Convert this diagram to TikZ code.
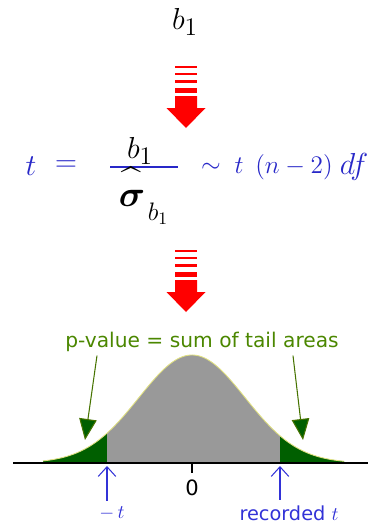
\documentclass[tikz,border=0pt]{standalone}
\usepackage{amsmath}
\usepackage{fontspec}
\newfontfamily\pixelfont{DejaVu Sans}
\usetikzlibrary{arrows.meta}

\definecolor{eqblue}{RGB}{40,40,200}
\definecolor{lblblue}{RGB}{50,50,215}
\definecolor{txtgreen}{RGB}{75,135,0}
\definecolor{shaftgreen}{RGB}{70,115,0}
\definecolor{tailgreen}{RGB}{0,95,0}
\definecolor{arrowred}{RGB}{255,0,0}
\definecolor{curvegray}{RGB}{153,153,153}
\definecolor{rimyellow}{RGB}{225,225,130}

\begin{document}
\begin{tikzpicture}[x=0.02cm, y=-0.02cm, >=Latex, every node/.style={inner sep=0pt}]
  \tikzstyle{mathtxt}=[font=\fontsize{19}{22}\selectfont]
  \tikzstyle{subtxt}=[font=\fontsize{14}{16}\selectfont]
  \tikzstyle{eqtxt}=[text=eqblue, font=\fontsize{18}{20}\selectfont]
  \tikzstyle{rhstxt}=[text=eqblue, font=\fontsize{14}{17}\selectfont]
  \tikzstyle{greentxt}=[text=txtgreen, font=\pixelfont\fontsize{11.5}{13}\selectfont]
  \tikzstyle{bluetxt}=[text=lblblue, font=\pixelfont\fontsize{11}{13}\selectfont]
  \tikzstyle{greenarrow}=[shaftgreen, line width=0.6pt, -{Triangle[length=12pt, width=10pt, fill=tailgreen]}]
  \tikzstyle{bluearrow}=[lblblue, line width=0.6pt, -{Straight Barb[length=5.5pt, width=10pt]}]
  \useasboundingbox (0,0) rectangle (380,525);

  % estimate on top
  \node[mathtxt] (b1) at (185,22) {$b_1$};

  % red arrows
  \foreach \ytop in {66,250} {
    \begin{scope}[shift={(186,\ytop)}]
      \fill[arrowred] (-11,0) rectangle (11,2);
      \fill[arrowred] (-11,6.7) rectangle (11,9);
      \fill[arrowred] (-11,14) rectangle (11,17.3);
      \fill[arrowred] (-11,22.3) rectangle (11,27.3);
      \fill[arrowred] (-11,30) -- (11,30) -- (11,42) -- (19.5,42) -- (0,62)
        -- (-19.5,42) -- (-11,42) -- cycle;
    \end{scope}
  }

  % test statistic
  \node[eqtxt] (tlhs) at (31,166) {$t$};
  \node[eqtxt] (eq) at (66,166) {$=$};
  \draw[eqblue, line width=0.8pt] (110,167) -- (178,167);
  \node[mathtxt] (num) at (140,151) {$b_1$};
  \node[font=\fontsize{20}{22}\selectfont] (sighat) at (131,172) {\raisebox{-0.45em}[0.25em][0pt]{\^{}}};
  \node[font=\fontsize{22}{24}\selectfont] (sig) at (132,198) {$\boldsymbol{\sigma}$};
  \node[subtxt] (sigsub) at (158,214) {$b_1$};
  \node[rhstxt] (sim) at (211,168) {$\sim$};
  \node[rhstxt] (trhs) at (239,166) {$t$};
  \node[rhstxt] (ndf) at (294,167) {$(n-2)$};
  \node[rhstxt, font=\fontsize{16}{18}\selectfont] (df) at (354,167) {$df$};

  % t distribution
  \fill[tailgreen] (43,463) -- plot[domain=43:107, samples=40]
    (\x,{463-108*exp(-0.5*((\x-192)/53)^2)}) -- (107,463) -- cycle;
  \fill[curvegray] (107,463) -- plot[domain=107:280, samples=80]
    (\x,{463-108*exp(-0.5*((\x-192)/53)^2)}) -- (280,463) -- cycle;
  \fill[tailgreen] (280,463) -- plot[domain=280:344, samples=40]
    (\x,{463-108*exp(-0.5*((\x-192)/53)^2)}) -- (344,463) -- cycle;
  \draw[rimyellow, line width=0.5pt] plot[domain=43:344, samples=150]
    (\x,{463-108*exp(-0.5*((\x-192)/53)^2)});
  \draw[black, line width=0.8pt] (13,463) -- (368,463);
  \draw[black, line width=0.8pt] (192,463) -- (192,473);
  \node[font=\pixelfont\fontsize{12}{14}\selectfont] (zero) at (192,488) {0};

  % p-value
  \node[greentxt] (pval) at (202,342) {p-value = sum of tail areas};
  \coordinate (lstart) at (97,0);
  \coordinate (rstart) at (293,0);
  \coordinate (ltail) at (85,440);
  \coordinate (rtail) at (303,440);
  \draw[greenarrow] ([yshift=-2pt]pval.south -| lstart) -- (ltail);
  \draw[greenarrow] ([yshift=-2pt]pval.south -| rstart) -- (rtail);

  % cut points
  \node[bluetxt] (negt) at (112,513) {$-$\,$t$};
  \node[bluetxt] (rect) at (289,513) {recorded $t$};
  \coordinate (lcut) at (107,466);
  \coordinate (rcut) at (280,466);
  \draw[bluearrow] ([yshift=3pt]negt.north -| lcut) -- (lcut);
  \draw[bluearrow] ([yshift=3pt]rect.north -| rcut) -- (rcut);
\end{tikzpicture}
\end{document}
